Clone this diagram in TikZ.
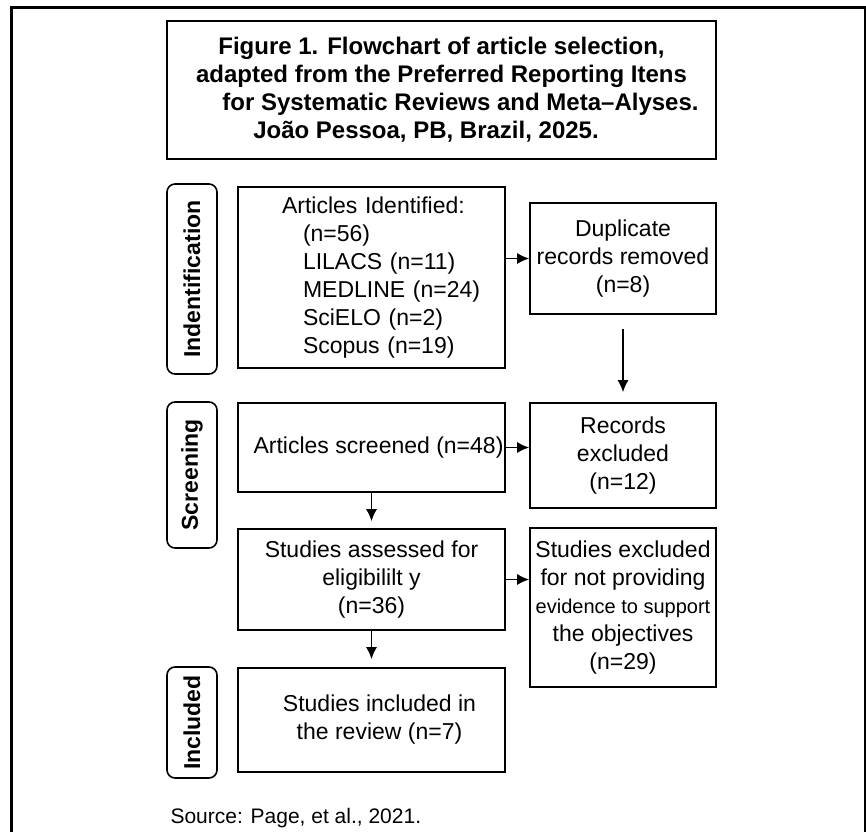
\documentclass[tikz,border=0pt]{standalone}
\usepackage{fontspec}
\setmainfont{Liberation Sans}
\usetikzlibrary{positioning, arrows.meta}

\begin{document}
\begin{tikzpicture}[x=1pt, y=-1pt,
		box/.style={draw, line width=1.6pt, inner sep=0pt, align=center,
			font=\fontsize{23}{28}\selectfont},
		sidelab/.style={draw, line width=1.6pt, rounded corners=8pt, rotate=90,
			minimum height=50pt, inner sep=0pt, font=\bfseries\fontsize{23}{28}\selectfont},
		arr/.style={-{Latex[length=12pt,width=11pt]}, line width=1.6pt}]
		\useasboundingbox (0,0) rectangle (866,832);
		
		% frame, open at the bottom
		\draw[line width=2.4pt] (11.5,832)--(11.5,7.5)--(865,7.5)--(865,832);
		
		\node[box, line width=1.8pt, minimum width=549pt, minimum height=138pt,
		font=\bfseries\fontsize{24}{28}\selectfont] (title) at (441.5,90)
		{Figure 1. Flowchart of article selection,\\
			adapted from the Preferred Reporting Itens\\
			\hspace*{38pt}for Systematic Reviews and Meta–Alyses.\\
			\hspace*{-31pt}João Pessoa, PB, Brazil, 2025.};
		
		% phases
		\node[sidelab, minimum width=190pt] (idlab) at (192,279) {Indentification};
		\node[sidelab, minimum width=146pt] (scrlab) at (192,475) {Screening};
		\node[sidelab, minimum width=111pt] (inclab) at (192,722.5) {Included};
		
		% left column
		\node[box, minimum width=267pt, minimum height=181pt, text width=240pt, align=left]
		(ident) at (371.5,277.5)
		{\hspace*{30.5pt}Articles Identified:\\
			\hspace*{51.5pt}(n=56)\\
			\hspace*{51.5pt}LILACS (n=11)\\
			\hspace*{51.5pt}MEDLINE (n=24)\\
			\hspace*{51.5pt}SciELO (n=2)\\
			\hspace*{51.5pt}Scopus (n=19)};
		\node[box, minimum width=267pt, minimum height=89pt] (scr) at (371.5,447.5)
		{\hspace*{14pt}Articles screened (n=48)};
		\node[box, minimum width=267pt, minimum height=101pt] (ass) at (371.5,579.5)
		{Studies assessed for\\ eligibililt y\\ (n=36)};
		\node[box, minimum width=267pt, minimum height=104pt] (inc) at (371.5,720)
		{\hspace*{16pt}Studies included in\\ \hspace*{16pt}the review (n=7)};
		
		% right column
		\node[box, minimum width=186pt, minimum height=111pt] (dup) at (623,258.5)
		{Duplicate\\ records removed\\ (n=8)};
		\node[box, minimum width=186pt, minimum height=105pt] (rec) at (623,455.5)
		{Records\\ excluded\\ (n=12)};
		\node[box, minimum width=186pt, minimum height=159pt] (exc) at (623,607.5)
		{Studies excluded\\ for not providing\\
			{\fontsize{20}{28}\selectfont evidence to support}\\
			the objectives\\ (n=29)};
		
		\draw[arr] (ident.east |- dup.west)--(dup.west);
		\draw[arr, shorten <=14pt, shorten >=10pt] (dup.south)--(rec.north);
		\draw[arr] (scr.east)--(scr.east -| rec.west);
		\draw[arr, shorten >=7pt] (scr)--(ass);
		\draw[arr] (ass.east)--(ass.east -| exc.west);
		\draw[arr, shorten >=8pt] (ass)--(inc);
		
		\node[anchor=base west, font=\fontsize{21}{25}\selectfont] (src) at (167,823)
		{Source: Page, et al., 2021.};
\end{tikzpicture}
\end{document}
